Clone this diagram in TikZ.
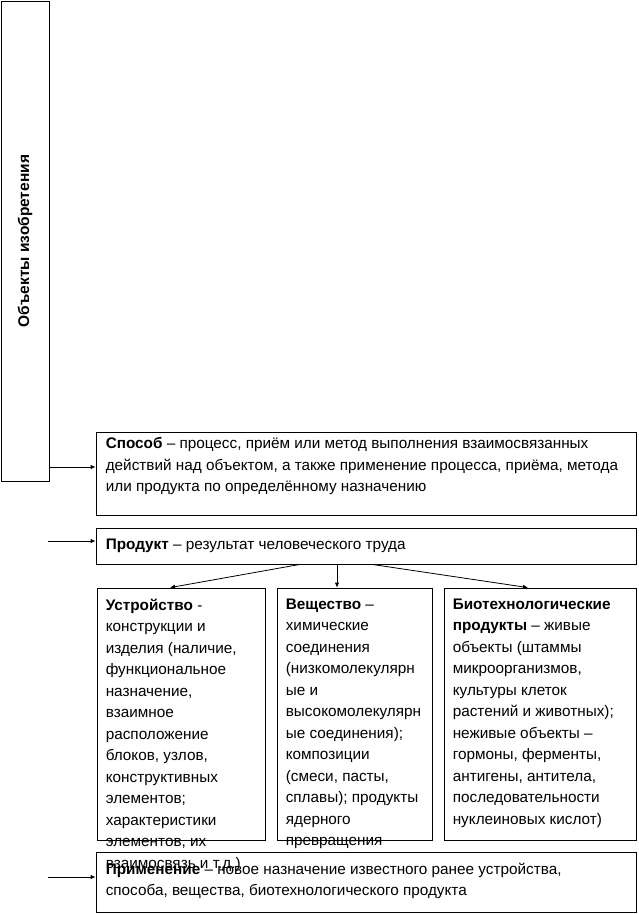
\documentclass[tikz,border=0pt]{standalone}
\usepackage{fontspec}
\setmainfont{Liberation Sans}
\usetikzlibrary{arrows.meta,positioning}

\begin{document}
\begin{tikzpicture}[x=1pt, y=-1pt,
    box/.style={draw, line width=0.8pt, rectangle, inner sep=0pt},
    txt/.style={anchor=north west, inner sep=0pt, align=left,
                font=\fontsize{15.3}{21.5}\selectfont},
    arr/.style={line width=0.8pt, -{Latex[length=5pt,width=4.5pt]}}]
            \useasboundingbox (0,0) rectangle (638,914);
            % Boxes
            \node[box, minimum width=48pt, minimum height=480pt] (obj) at (25,241) {};
            \node[box, minimum width=540pt, minimum height=83pt] (sposob) at (366,473.5) {};
            \node[box, minimum width=540pt, minimum height=36pt] (prod) at (366,546) {};
            \node[box, minimum width=168pt, minimum height=252pt] (ustr) at (181,714) {};
            \node[box, minimum width=155pt, minimum height=252pt] (vesh) at (354.5,714) {};
            \node[box, minimum width=192pt, minimum height=252pt] (bio) at (540,714) {};
            \node[box, minimum width=540pt, minimum height=60pt] (prim) at (366,882) {};
            % Texts
            \node[rotate=90, font=\fontsize{15.5}{18}\selectfont\bfseries] (objtxt) at (obj) {Объекты изобретения};
            \node[txt] (sposobtxt) at ([xshift=10pt,yshift=-5.5pt]sposob.north west)
              {\textbf{Способ} – процесс, приём или метод выполнения взаимосвязанных\\
               действий над объектом, а также применение процесса, приёма, метода\\
               или продукта по определённому назначению};
            \node[txt] (prodtxt) at ([xshift=10pt,yshift=-11.5pt]prod.north west)
              {\textbf{Продукт} – результат человеческого труда};
            \node[txt] (ustrtxt) at ([xshift=9pt,yshift=-11pt]ustr.north west)
              {\textbf{Устройство} -\\ конструкции и\\ изделия (наличие,\\ функциональное\\
               назначение,\\ взаимное\\ расположение\\ блоков, узлов,\\ конструктивных\\
               элементов;\\ характеристики\\ элементов, их\\ взаимосвязь и т.д.)};
            \node[txt] (veshtxt) at ([xshift=9pt,yshift=-11pt]vesh.north west)
              {\textbf{Вещество} –\\ химические\\ соединения\\ (низкомолекулярн\\ ые и\\
               высокомолекулярн\\ ые соединения);\\ композиции\\ (смеси, пасты,\\
               сплавы); продукты\\ ядерного\\ превращения};
            \node[txt] (biotxt) at ([xshift=9pt,yshift=-11pt]bio.north west)
              {\textbf{Биотехнологические}\\ \textbf{продукты} – живые\\ объекты (штаммы\\
               микроорганизмов,\\ культуры клеток\\ растений и животных);\\
               неживые объекты –\\ гормоны, ферменты,\\ антигены, антитела,\\
               последовательности\\ нуклеиновых кислот)};
            \node[txt] (primtxt) at ([xshift=10pt,yshift=-11pt]prim.north west)
              {\textbf{Применение} – новое назначение известного ранее устройства,\\
               способа, вещества, биотехнологического продукта};
            % Arrows
            \coordinate (sp-in) at ([yshift=6.5pt]sposob.west);
            \draw[arr] (obj.east |- sp-in) -- (sp-in);
            \coordinate (pr-in) at ([yshift=5pt]prod.west);
            \coordinate (pr-from) at (48,541);
            \draw[arr] (pr-from) -- (pr-in);
            \coordinate (pm-in) at ([yshift=5pt]prim.west);
            \coordinate (pm-from) at (48,877);
            \draw[arr] (pm-from) -- (pm-in);
            \draw[arr] ([xshift=-66pt]prod.south) -- ([xshift=-11pt]ustr.north);
            \draw[arr] ([xshift=-29pt]prod.south) -- ([xshift=-17.5pt]vesh.north);
            \draw[arr] ([xshift=6pt]prod.south) -- ([xshift=-12pt]bio.north);
\end{tikzpicture}
\end{document}
